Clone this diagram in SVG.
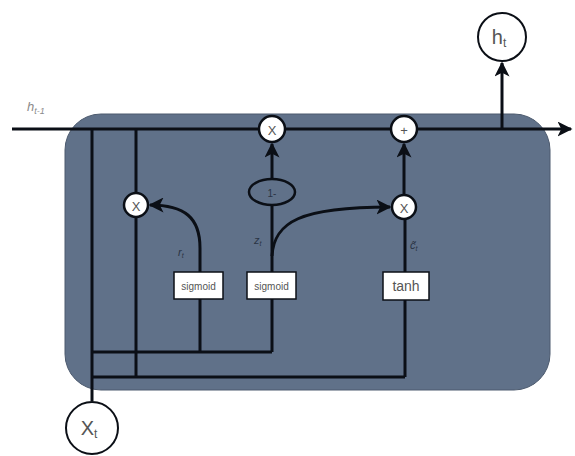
<svg xmlns="http://www.w3.org/2000/svg" width="575" height="456" viewBox="0 0 575 456">
<style>
.w{stroke:#0b0f16;stroke-width:3;fill:none}
.gate{fill:#ffffff;stroke:#0b0f16;stroke-width:2.5}
.box{fill:#ffffff;stroke:#0b0f16;stroke-width:1.5}
.gt{font-family:"Liberation Sans",Arial,sans-serif;fill:#555;text-anchor:middle;dominant-baseline:central}
.lbl{font-family:"Liberation Sans",Arial,sans-serif;fill:#2a3444;font-style:italic;font-size:11px}
</style>
<defs>
<marker id="ah" viewBox="0 0 10 10" refX="9" refY="5" markerWidth="5" markerHeight="5" orient="auto" markerUnits="strokeWidth">
<path d="M0,0 L10,5 L0,10 L2.5,5 Z" fill="#0b0f16"/>
</marker>
</defs>
<rect x="65" y="114" width="485" height="276" rx="36" ry="36" fill="#607189" stroke="#4c5a6e" stroke-width="1"/>
<g id="connectors">
<line class="w" x1="12" y1="129" x2="571" y2="129" marker-end="url(#ah)"/>
<line class="w" x1="502" y1="129" x2="502" y2="63" marker-end="url(#ah)"/>
<line class="w" x1="92" y1="129" x2="92" y2="401"/>
<line class="w" x1="136" y1="129" x2="136" y2="377"/>
<line class="w" x1="92" y1="352" x2="272" y2="352"/>
<line class="w" x1="92" y1="377" x2="405" y2="377"/>
<line class="w" x1="200" y1="352" x2="200" y2="299"/>
<line class="w" x1="272" y1="352" x2="272" y2="299"/>
<line class="w" x1="405" y1="377" x2="405" y2="300"/>
<line class="w" x1="272" y1="272" x2="272" y2="205"/>
<line class="w" x1="272" y1="179" x2="272" y2="144" marker-end="url(#ah)"/>
<line class="w" x1="404" y1="219" x2="404" y2="144" marker-end="url(#ah)"/>
<line class="w" x1="405" y1="272" x2="405" y2="220"/>
<path class="w" d="M200,272 L200,248 C200,218 185,205 150,205" marker-end="url(#ah)"/>
<path class="w" d="M272,256 C274,222 300,207 390,207" marker-end="url(#ah)"/>
</g>
<g id="h_prev"><text x="27" y="111" class="lbl" style="fill:#8a8a8a;font-size:13px">h<tspan style="font-size:9px" dy="3">t-1</tspan></text></g>
<g id="ht"><circle cx="502" cy="37" r="24" fill="#fff" stroke="#0b0f16" stroke-width="2"/><text x="499" y="37" class="gt" font-size="20">h<tspan font-size="12" dy="6">t</tspan></text></g>
<g id="xt"><circle cx="92" cy="428" r="26" fill="#fff" stroke="#0b0f16" stroke-width="2"/><text x="89" y="428" class="gt" font-size="20">X<tspan font-size="12" dy="6">t</tspan></text></g>
<g id="mul_r"><circle class="gate" cx="136" cy="205" r="12"/><text class="gt" x="136" y="206" font-size="13">X</text></g>
<g id="mul_top"><circle class="gate" cx="272" cy="129" r="13"/><text class="gt" x="272" y="130" font-size="13">X</text></g>
<g id="add"><circle class="gate" cx="404" cy="129" r="13"/><text class="gt" x="404" y="130" font-size="13">+</text></g>
<g id="mul_c"><circle class="gate" cx="404" cy="207" r="12"/><text class="gt" x="404" y="208" font-size="13">X</text></g>
<g id="one_minus"><ellipse cx="272" cy="192" rx="23" ry="13" fill="#607189" stroke="#0b0f16" stroke-width="2.5"/><text class="gt" x="272" y="193" font-size="10" style="fill:#2a3444">1-</text></g>
<g id="sig_r"><rect class="box" x="174" y="272" width="49" height="27"/><text class="gt" x="198.5" y="286" font-size="10">sigmoid</text></g>
<g id="sig_z"><rect class="box" x="247" y="272" width="49" height="27"/><text class="gt" x="271.5" y="286" font-size="10">sigmoid</text></g>
<g id="tanh"><rect class="box" x="383" y="272" width="46" height="28"/><text class="gt" x="406" y="286" font-size="14">tanh</text></g>
<g id="labels">
<text class="lbl" x="178" y="256">r<tspan font-size="7" dy="2">t</tspan></text>
<text class="lbl" x="254" y="244">z<tspan font-size="7" dy="2">t</tspan></text>
<text class="lbl" x="410" y="249">c̃<tspan font-size="7" dy="2">t</tspan></text>
</g>
</svg>
